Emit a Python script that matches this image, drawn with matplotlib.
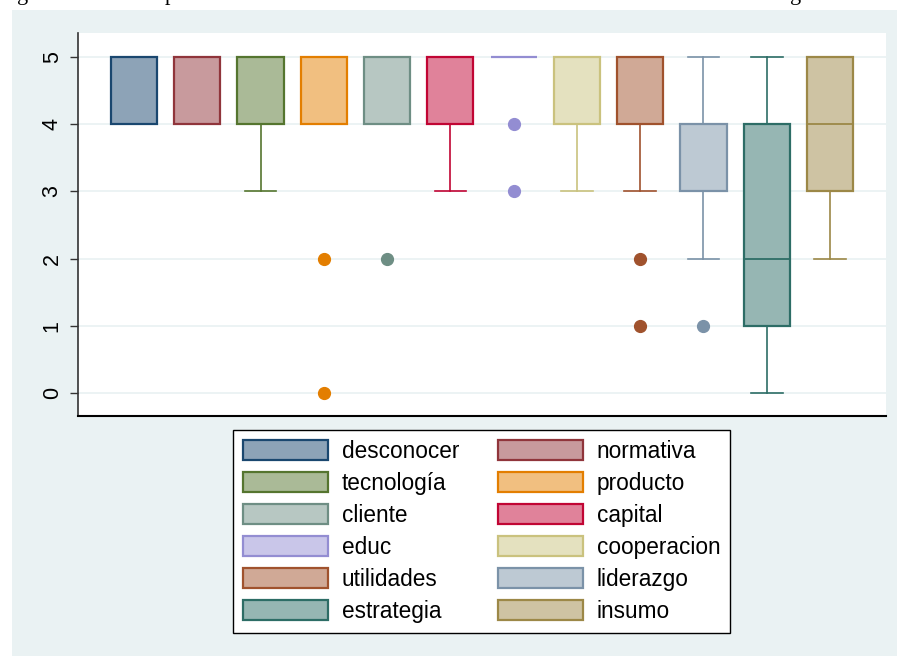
import numpy as np
from matplotlib import pyplot as plt
from matplotlib import patches, colors

# variables, in plotting order
names = ["desconocer", "normativa", "tecnología", "producto", "cliente",
         "capital", "educ", "cooperacion", "utilidades", "liderazgo",
         "estrategia", "insumo"]
q1 = [4, 4, 4, 4, 4, 4, 5, 4, 4, 3, 1, 3]
median = [5, 5, 5, 5, 5, 5, 5, 5, 5, 4, 2, 4]
q3 = [5, 5, 5, 5, 5, 5, 5, 5, 5, 4, 4, 5]
whiskerLow = [4, 4, 3, 4, 4, 3, 5, 3, 3, 2, 0, 2]
whiskerHigh = [5, 5, 5, 5, 5, 5, 5, 5, 5, 5, 5, 5]
outliers = [[], [], [], [2, 0], [2], [], [4, 3], [], [2, 1], [1], [], []]

# stata s2color palette
lineColors = ["#1a476f", "#90353b", "#55752f", "#e37e00", "#6e8e84",
              "#c10534", "#938dd2", "#cac27e", "#a0522d", "#7b92a8",
              "#2d6d66", "#9c8847"]

# only the bottom of the title survives the crop
titleBits = ["g", "p", "g"]
titleX = [17, 165, 790]

FIG_W, FIG_H = 897, 656
BG = "#eaf2f3"


def fillColor(c, alpha=0.5):
  rgb = np.array(colors.to_rgb(c))
  return tuple(rgb * alpha + (1 - alpha))


fig = plt.figure(figsize=(FIG_W / 100., FIG_H / 100.), dpi=100)
fig.patch.set_facecolor("white")
fig.patches.append(patches.Rectangle((12. / FIG_W, 0), 1 - 12. / FIG_W,
                                     1 - 10. / FIG_H, transform=fig.transFigure,
                                     facecolor=BG, edgecolor="none", zorder=-10))

for bit, x in zip(titleBits, titleX):
  fig.text(x / float(FIG_W), 1.0, bit, family="Liberation Serif", fontsize=16,
           va="baseline", ha="left")

ax = fig.add_axes([78. / FIG_W, 1 - 416. / FIG_H, (886. - 78) / FIG_W,
                   (416. - 33) / FIG_H])
ax.set_facecolor("white")

positions = np.arange(1, len(names) + 1)
for i, pos in enumerate(positions):
  stats = [dict(med=median[i], q1=q1[i], q3=q3[i], whislo=whiskerLow[i],
                whishi=whiskerHigh[i], fliers=outliers[i])]
  c = lineColors[i]
  ax.bxp(stats, positions=[pos], widths=0.73, capwidths=0.5, patch_artist=True,
         boxprops=dict(facecolor=fillColor(c), edgecolor=c, linewidth=1.6),
         medianprops=dict(color=c, linewidth=1.3),
         whiskerprops=dict(color=c, linewidth=1.2),
         capprops=dict(color=c, linewidth=1.2),
         flierprops=dict(marker="o", markerfacecolor=c, markeredgecolor=c,
                         markersize=8.5),
         manage_ticks=False, zorder=3)

ax.set_xlim(0.115, 12.885)
ax.set_ylim(-0.34, 5.356)
ax.set_yticks(range(6))
ax.set_xticks([])
ax.yaxis.grid(True, color=BG, linewidth=1.3)
ax.set_axisbelow(True)
for label in ax.get_yticklabels():
  label.set_rotation(90)
  label.set_va("center")
ax.tick_params(axis="y", length=6, width=1, labelsize=15.5, pad=5,
               colors="#333333", labelcolor="black")
for side in ["top", "right"]:
  ax.spines[side].set_visible(False)
ax.spines["left"].set_color("#333333")
ax.spines["left"].set_linewidth(1.2)
ax.spines["bottom"].set_color("black")
ax.spines["bottom"].set_linewidth(1.5)

# legend, stata fills rows first
handles = [patches.Patch(facecolor=fillColor(c), edgecolor=c, linewidth=1.6)
           for c in lineColors]
order = list(range(0, 12, 2)) + list(range(1, 12, 2))
leg = fig.legend([handles[k] for k in order], [names[k] for k in order],
                 ncol=2, loc="center",
                 bbox_to_anchor=((233 + 730) / 2. / FIG_W,
                                 1 - (432 + 631) / 2. / FIG_H),
                 fontsize=16.3, frameon=True, fancybox=False, edgecolor="black",
                 framealpha=1.0, facecolor="white",
                 handlelength=3.75, handleheight=0.98, handletextpad=0.62,
                 columnspacing=1.7, labelspacing=0.4, borderpad=0.45)
leg.get_frame().set_linewidth(1.0)
for t in leg.get_texts():
  t.set_family(["Liberation Sans", "DejaVu Sans"])
for t in ax.get_yticklabels():
  t.set_family(["Liberation Sans", "DejaVu Sans"])

plt.savefig("out.png", dpi=100, facecolor=fig.get_facecolor())
